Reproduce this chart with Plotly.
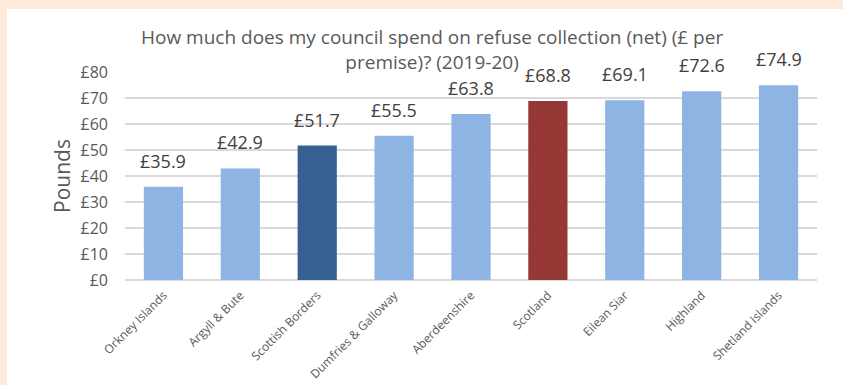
import plotly.graph_objects as go

councils = ["Orkney Islands", "Argyll & Bute", "Scottish Borders", "Dumfries & Galloway",
            "Aberdeenshire", "Scotland", "Eilean Siar", "Highland", "Shetland Islands"]
spend = [35.9, 42.9, 51.7, 55.5, 63.8, 68.8, 69.1, 72.6, 74.9]
bar_colors = ["#8EB4E3", "#8EB4E3", "#366092", "#8EB4E3", "#8EB4E3",
              "#953735", "#8EB4E3", "#8EB4E3", "#8EB4E3"]
y_ticks = [0, 10, 20, 30, 40, 50, 60, 70, 80]
y_tick_text = ["£" + str(v) for v in y_ticks]
labels = ["£" + f"{v:.1f}" for v in spend]

FONT = "Open Sans, sans-serif"
GREY = "#595959"
W, H = 843, 385
L, R, T, B = 125, 26, 72, 105

fig = go.Figure(go.Bar(
    x=councils, y=spend,
    marker=dict(color=bar_colors, line=dict(width=0)),
    width=0.51,
))

# value labels floating above each bar
for name, val, lab in zip(councils, spend, labels):
    fig.add_annotation(x=name, y=val, text=lab, showarrow=False,
                       xanchor="center", yanchor="bottom", yshift=12,
                       font=dict(family=FONT, size=18, color="#404040"))

pw, ph = W - L - R, H - T - B
# white panel inside the peach frame
fig.add_shape(type="rect", xref="paper", yref="paper",
              x0=(7 - L) / pw, x1=(W + 5 - L) / pw,
              y0=-(H + 5 - T - ph) / ph, y1=(H - 9 - B) / ph,
              fillcolor="white", line=dict(width=0), layer="below")

fig.add_annotation(
    text="How much does my council spend on refuse collection (net) (£ per<br>premise)? (2019-20)",
    xref="paper", yref="paper", x=(432 - L) / pw, y=(H - 50 - B) / ph,
    xanchor="center", yanchor="middle", showarrow=False,
    font=dict(family=FONT, size=19, color=GREY),
)

fig.update_layout(
    width=W, height=H,
    margin=dict(l=L, r=R, t=T, b=B, autoexpand=False),
    paper_bgcolor="#FDEADA", plot_bgcolor="white",
    showlegend=False,
    xaxis=dict(tickangle=-45, tickfont=dict(family=FONT, size=12, color=GREY),
               ticklabelstandoff=5, automargin=False,
               showgrid=False, showline=False, ticks=""),
    yaxis=dict(range=[0, 80], tickvals=y_ticks, ticktext=y_tick_text,
               tickfont=dict(family=FONT, size=16, color=GREY),
               ticklabelstandoff=16, automargin=False,
               showgrid=True, gridcolor="#D9D9D9", gridwidth=1.5,
               zeroline=True, zerolinecolor="#D9D9D9", zerolinewidth=1.5,
               ticks="", ticklen=0, showline=False,
               title=dict(text="Pounds", font=dict(family=FONT, size=21, color=GREY),
                          standoff=4)),
)

fig.write_html("out.html")
